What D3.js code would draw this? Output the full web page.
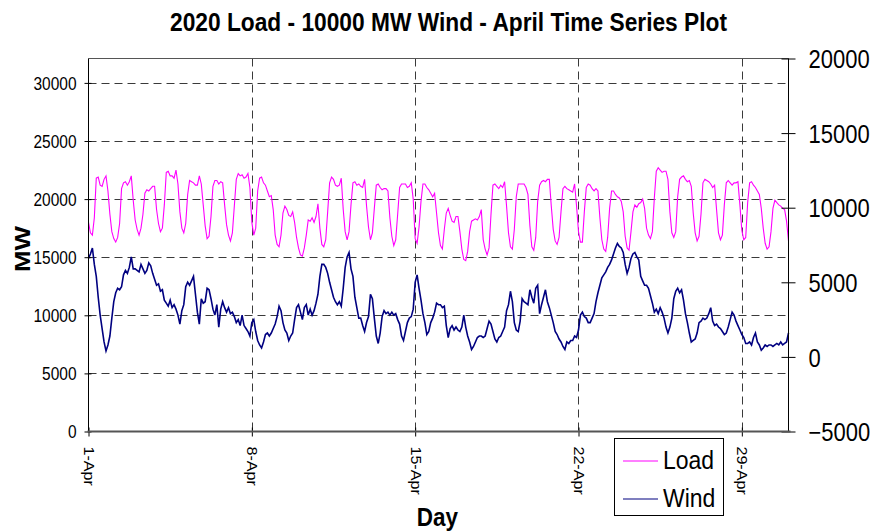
<!DOCTYPE html>
<html><head><meta charset="utf-8">
<script src="https://cdn.jsdelivr.net/npm/d3@7"></script>
<style>
body{margin:0;background:#fff;}
svg{display:block;font-family:"Liberation Sans", Arial, sans-serif;}
</style></head><body>
<svg id="c" width="874" height="531"></svg>
<script>
const titleText = "2020 Load - 10000 MW Wind - April Time Series Plot";
const dayTicks = [0, 7, 14, 21, 28];
const dayLabels = ["1-Apr", "8-Apr", "15-Apr", "22-Apr", "29-Apr"];
const leftTicks = [0, 5000, 10000, 15000, 20000, 25000, 30000];
const rightTicks = [-5000, 0, 5000, 10000, 15000, 20000];
const seriesNames = ["Load", "Wind"];
const stepHours = 2;
// Load (MW), every 2 hours from 1-Apr 00:00
const loadMW = [
18000,17100,16900,18400,21800,21900,21200,21100,21700,22000,20700,18700,
17200,16600,16300,16700,17900,20900,21400,21500,21200,21500,22000,19900,
18200,17400,16900,17500,18700,20500,20800,20700,20900,21100,21100,19100,
17900,17200,17500,19500,22300,22400,22000,22000,21800,22500,21300,18900,
17500,17100,17900,20400,21600,21500,21400,21200,21200,22000,21300,19500,
17700,16600,16800,18500,21100,21600,21600,21300,21500,21400,19500,17800,
16900,16400,17100,19400,21700,22200,22000,22100,21800,21900,22200,21000,
18000,16900,17500,20700,21800,21900,21400,21200,20700,20200,20300,19100,
16900,16100,15900,16900,18800,19400,19100,18600,18500,18900,18000,16700,
15800,15200,15100,15800,16900,18200,18100,18400,18000,18500,19600,17500,
16100,15900,16500,18900,21400,21900,21700,21200,21100,21200,21800,19100,
17200,16500,17200,19500,21400,21500,21200,21300,21100,21000,21700,19400,
17600,16500,17100,19200,21200,21300,21000,20800,20900,20900,20700,18400,
16800,16000,16500,18700,21000,21300,21300,21300,21000,21100,21400,20000,
16600,16200,17600,19800,21300,21300,21000,20800,20500,20200,20500,18800,
17100,16000,15700,17400,18800,19200,18600,18100,18000,18500,18500,17200,
15700,14800,14700,15500,17200,18100,18200,18300,18200,18500,19100,16500,
15700,15200,15800,18700,21200,21300,21100,20900,21200,21000,21500,19400,
17100,15900,15700,17400,20200,21300,21300,21300,21300,21000,20400,17700,
15900,15600,16700,19800,21200,21500,21600,21500,21700,21700,19400,17400,
16400,16100,16700,18900,20900,21100,20900,20800,20700,20600,21300,19400,
17200,16300,16300,18900,21000,21300,21200,20900,20700,20900,20700,18400,
16500,15700,15500,16700,19200,20700,20700,20400,20200,20100,19800,18900,
16800,15800,15600,17200,18900,19500,19300,19600,19700,20000,19200,17500,
16900,16600,17200,20100,22400,22700,22500,22300,22400,22400,21700,18900,
17100,16700,17200,20200,21700,21900,22000,21700,21500,21600,21100,18800,
17100,16400,16800,18700,21400,21700,21600,21500,21300,21000,21200,19100,
17100,16500,16900,19500,21400,21600,21400,21200,21400,21400,21500,19500,
17300,16500,16700,19700,21400,21500,21200,21000,20700,20400,19200,17500,
16200,15700,15900,17200,19200,19900,19700,19500,19400,19200,19100,18100,
16400];
// Wind (MW), every 2 hours from 1-Apr 00:00
const windMW = [
6600,6900,7300,6200,5400,4000,2800,1900,1000,400,800,1400,
2600,3700,4300,4600,4500,4700,5500,5800,5600,6000,6700,5900,
5900,5800,5700,6200,5900,5600,5800,6300,6100,5600,5200,4800,
4900,4400,4500,3800,3600,3400,3800,3300,3500,3200,2800,2200,
3100,3500,4700,5000,4800,5100,5400,4200,3000,2200,3900,3600,
3700,4600,4500,3900,3200,2800,3500,2000,3200,3700,3300,3000,
3300,2900,3000,2700,2300,2500,2100,2800,2100,1900,1700,1400,
2300,2500,1700,1100,800,600,1000,1500,1600,1400,1600,1900,
2200,2700,3400,3100,2300,1800,1600,1100,1400,1600,2500,3300,
3500,3000,2500,3300,3500,2800,3200,2800,3100,3600,4200,5400,
6200,6200,6000,5600,5000,4500,4000,3700,3500,3700,3400,4600,
6000,6700,7000,5900,5400,4000,3300,2600,2600,2100,1700,2300,
2700,4200,3900,2600,1400,900,1600,2700,3100,2900,3000,2800,
3000,2800,2900,2500,2200,1400,1100,1700,2300,2600,2700,3200,
5000,5500,4600,3800,2900,2300,1500,1700,2300,2600,3000,3600,
3500,3500,3300,3400,2100,1300,1900,2100,1800,2000,1800,1700,
2000,2800,2000,1400,1000,500,700,1000,1300,1400,1400,1300,
1400,1900,2400,2200,1700,1200,1000,1300,1400,1700,2000,3100,
3500,4400,3700,2300,1800,1700,2400,3900,3700,3600,3500,4500,
4000,3600,4600,4800,2900,3500,4000,4500,3700,3300,2800,2300,
1700,1500,1200,1000,700,500,1000,900,1100,1100,1400,1300,
1800,2800,3000,2700,2600,2300,2300,2600,2900,3700,4300,4800,
5300,5500,5700,6000,6200,6500,6900,7300,7600,7400,7300,7000,
6200,5600,6000,6600,6900,7000,6700,6500,5400,5100,4800,4800,
4600,4100,3600,3000,3200,2900,3300,3000,2600,2000,1600,2000,
2600,3900,4400,4600,4300,4500,3800,2900,2300,1600,1000,1100,
1200,1600,2300,2400,2600,2500,2600,2900,3300,2400,2100,2200,
2000,1900,1700,1500,1600,2000,2500,3000,2800,2400,2100,1800,
1500,1300,900,900,1000,800,1300,1600,1000,800,450,600,
800,700,800,800,700,800,900,800,1000,800,900,1000,
1600];

const S = 1.15; // vertical text stretch
const svg = d3.select("#c");
const L = 88.5, R = 788.5, T = 58.5, B = 431.5;
const x = d3.scaleLinear().domain([0, 30]).range([L, R]);
const yL = d3.scaleLinear().domain([0, 32100]).range([B, T]);
const yR = d3.scaleLinear().domain([-5000, 20000]).range([B, T]);
const colors = {Load: "#ff00ff", Wind: "#000080"};

svg.append("rect").attr("width", 874).attr("height", 531).attr("fill", "#fff");

// grid
const grid = svg.append("g").attr("stroke", "#3a3a3a").attr("stroke-width", 1).attr("stroke-dasharray", "8,5");
grid.selectAll("line.h").data(leftTicks.filter(d => d > 0)).join("line")
  .attr("x1", L).attr("x2", R).attr("y1", d => Math.round(yL(d)) + 0.5).attr("y2", d => Math.round(yL(d)) + 0.5);
grid.selectAll("line.v").data(dayTicks.filter(d => d > 0)).join("line")
  .attr("x1", d => Math.round(x(d)) + 0.5).attr("x2", d => Math.round(x(d)) + 0.5).attr("y1", T).attr("y2", B);

// top frame
svg.append("line").attr("x1", L).attr("x2", R).attr("y1", T).attr("y2", T).attr("stroke", "#555").attr("stroke-width", 1);

// series
const t = i => i * stepHours / 24;
svg.append("path").datum(loadMW)
  .attr("fill", "none").attr("stroke", colors.Load).attr("stroke-width", 1.1)
  .attr("d", d3.line().x((d, i) => x(t(i))).y(d => yL(d)));
svg.append("path").datum(windMW)
  .attr("fill", "none").attr("stroke", colors.Wind).attr("stroke-width", 1.6)
  .attr("d", d3.line().x((d, i) => x(t(i))).y(d => yR(d)));

// left axis
const gL = svg.append("g").attr("transform", `translate(${L},0)`)
  .call(d3.axisLeft(yL).tickValues(leftTicks).tickSizeInner(4).tickSizeOuter(0).tickPadding(8).tickFormat(d3.format("d")));
gL.select(".domain").remove();
gL.selectAll(".tick line").attr("x1", 3).attr("stroke", "#000");
gL.selectAll(".tick text").attr("font-size", 15.5).attr("font-family", "Liberation Sans, Arial, sans-serif")
  .attr("fill", "#000").attr("dy", "0.36em").attr("transform", `scale(1,${S})`);
svg.append("line").attr("x1", L).attr("x2", L).attr("y1", T).attr("y2", B).attr("stroke", "#000");

// right axis
const gR = svg.append("g").attr("transform", `translate(${R},0)`)
  .call(d3.axisRight(yR).tickValues(rightTicks).tickSizeInner(7).tickSizeOuter(0).tickPadding(13).tickFormat(d3.format("d")));
gR.select(".domain").remove();
gR.selectAll(".tick line").attr("x1", -7).attr("stroke", "#000");
gR.selectAll(".tick text").attr("font-size", 22).attr("font-family", "Liberation Sans, Arial, sans-serif")
  .attr("fill", "#000").attr("dy", "0.36em").attr("transform", `scale(1,${S})`);
svg.append("line").attr("x1", R).attr("x2", R).attr("y1", T).attr("y2", B).attr("stroke", "#000");

// bottom axis
const gB = svg.append("g").attr("transform", `translate(0,${B})`)
  .call(d3.axisBottom(x).tickValues(dayTicks).tickSizeInner(5).tickSizeOuter(0).tickFormat((d, i) => dayLabels[i]));
gB.select(".domain").remove();
gB.selectAll(".tick line").attr("y1", -4).attr("stroke", "#000");
gB.selectAll(".tick text").attr("font-size", 14).attr("font-family", "Liberation Sans, Arial, sans-serif")
  .attr("fill", "#000").attr("x", 13).attr("y", 0).attr("dy", "0.35em").attr("text-anchor", "start")
  .attr("transform", `scale(1,${S}) rotate(90)`);
svg.append("line").attr("x1", L - 1).attr("x2", R + 2).attr("y1", B).attr("y2", B).attr("stroke", "#555").attr("stroke-width", 2);

// texts
function txt(xp, yp, s, size, weight, anchor, rot) {
  return svg.append("text").attr("transform", `translate(${xp},${yp}) scale(1,${S})` + (rot ? ` rotate(${rot})` : ""))
    .attr("font-size", size).attr("font-weight", weight).attr("text-anchor", anchor).attr("fill", "#000").text(s);
}
txt(448.5, 31, titleText, 22.5, "bold", "middle").attr("textLength", 557).attr("lengthAdjust", "spacingAndGlyphs");
txt(437.5, 526, "Day", 22.5, "bold", "middle");
txt(22, 249, "MW", 22.5, "bold", "middle", -90).attr("dy", "0.36em");

// legend
const lg = svg.append("g");
lg.append("rect").attr("x", 614.5).attr("y", 438.5).attr("width", 109).attr("height", 77)
  .attr("fill", "#fff").attr("stroke", "#000");
const ly = [461, 499];
seriesNames.forEach((n, i) => {
  lg.append("line").attr("x1", 623).attr("x2", 658).attr("y1", ly[i]).attr("y2", ly[i])
    .attr("stroke", colors[n]).attr("stroke-width", 1.2);
  txt(663, ly[i] + 7.5, n, 23, "normal", "start");
});
</script>
</body></html>
